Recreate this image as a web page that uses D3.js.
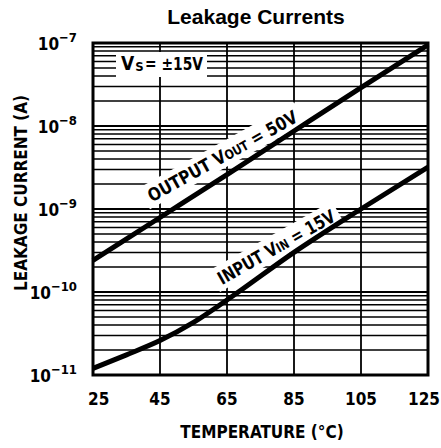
<!DOCTYPE html>
<html><head><meta charset="utf-8">
<script src="https://cdn.jsdelivr.net/npm/d3@7"></script>
<style>
html,body{margin:0;padding:0;background:#fff;}
svg{display:block;}
.cond{font-family:"Liberation Sans Narrow","DejaVu Sans Condensed","Arial Narrow",sans-serif;font-weight:bold;font-stretch:condensed;}
</style></head>
<body>
<svg id="c" width="441" height="448"></svg>
<script>
const xTicks = [25, 45, 65, 85, 105, 125];
const yExponents = [-7, -8, -9, -10, -11];
const outputTemps = [25, 45, 65, 85, 105, 125];
const outputLeak = [2.4e-10, 7.9e-10, 2.6e-9, 8.7e-9, 2.9e-8, 9.5e-8];
const inputTemps = [25, 35, 45, 55, 65, 85, 105, 125];
const inputLeak = [1.2e-11, 1.75e-11, 2.6e-11, 4.3e-11, 8.0e-11, 3.0e-10, 1.0e-9, 3.2e-9];

const svg = d3.select("#c");
const L = 93, R = 428, T = 43, B = 375;
const x = d3.scaleLinear().domain([25, 125]).range([L, R]);
const y = d3.scaleLog().domain([1e-11, 1e-7]).range([B, T]);

// title
svg.append("text").attr("x", 256).attr("y", 24).attr("text-anchor", "middle")
  .attr("font-family", "Liberation Sans, Arial, sans-serif").attr("font-weight", "bold")
  .attr("font-size", 21).text("Leakage Currents");

const g = svg.append("g");
const yt = y.ticks();
g.selectAll("line.h").data(yt).join("line")
  .attr("x1", L).attr("x2", R).attr("y1", d => y(d)).attr("y2", d => y(d))
  .attr("stroke", "#000")
  .attr("stroke-width", d => Math.abs(Math.log10(d) - Math.round(Math.log10(d))) < 1e-6 ? 2 : 1.5);
g.selectAll("line.v").data(xTicks).join("line")
  .attr("x1", d => x(d)).attr("x2", d => x(d)).attr("y1", T).attr("y2", B)
  .attr("stroke", "#000").attr("stroke-width", 1.8);

// Vs knockout
svg.append("rect").attr("x", 116).attr("y", 52).attr("width", 91).attr("height", 25).attr("fill", "#fff");

// line-label groups (anchored at text baseline start)
const outAng = -29, inAng = -29.5;
const outLen = 168, inLen = 132;
const outG = svg.append("g").attr("transform", `translate(${x(42.6)},${y(1.2e-9)}) rotate(${outAng})`);
outG.append("rect").attr("x", -5).attr("y", -19).attr("width", outLen + 10).attr("height", 24).attr("fill", "#fff");
const inG = svg.append("g").attr("transform", `translate(${x(63.5)},${y(1.21e-10)}) rotate(${inAng})`);
inG.append("rect").attr("x", -5).attr("y", -19).attr("width", inLen + 10).attr("height", 24).attr("fill", "#fff");

// border
svg.append("rect").attr("x", L).attr("y", T).attr("width", R - L).attr("height", B - T)
  .attr("fill", "none").attr("stroke", "#000").attr("stroke-width", 3);

// data lines
const line = d3.line().x(d => x(d[0])).y(d => y(d[1])).curve(d3.curveMonotoneX);
svg.append("path").attr("d", line(outputTemps.map((t, i) => [t, outputLeak[i]])))
  .attr("fill", "none").attr("stroke", "#000").attr("stroke-width", 5);
svg.append("path").attr("d", line(inputTemps.map((t, i) => [t, inputLeak[i]])))
  .attr("fill", "none").attr("stroke", "#000").attr("stroke-width", 5);

// line labels
const ot = outG.append("text").attr("class", "cond").attr("x", 0).attr("y", 0)
  .attr("font-size", 18).attr("textLength", outLen).attr("lengthAdjust", "spacingAndGlyphs");
ot.append("tspan").text("OUTPUT V");
ot.append("tspan").attr("font-size", 13).text("OUT");
ot.append("tspan").text(" = 50V");
const it = inG.append("text").attr("class", "cond").attr("x", 0).attr("y", 0)
  .attr("font-size", 18).attr("textLength", inLen).attr("lengthAdjust", "spacingAndGlyphs");
it.append("tspan").text("INPUT V");
it.append("tspan").attr("font-size", 13).text("IN");
it.append("tspan").text(" = 15V");

// Vs label (V, subscript S, rest)
const vsG = svg.append("g").attr("class", "cond");
const vV = vsG.append("text").attr("x", 121).attr("y", 70).attr("font-size", 19).text("V");
const vW = vV.node().getComputedTextLength();
vsG.append("text").attr("x", 121 + vW + 1).attr("y", 71).attr("font-size", 13).text("S");
vsG.append("text").attr("x", 145).attr("y", 70).attr("font-size", 18)
  .attr("textLength", 58).attr("lengthAdjust", "spacingAndGlyphs").text("= ±15V");

// y tick labels
const yl = svg.append("g").attr("class", "cond");
yExponents.forEach(e => {
  const t = yl.append("text").attr("x", 77).attr("y", y(Math.pow(10, e)) + 7)
    .attr("text-anchor", "end").attr("font-size", 17);
  t.append("tspan").text("10");
  t.append("tspan").attr("font-size", 13).attr("dy", -8).text("−" + Math.abs(e));
});

// x tick labels
svg.append("g").attr("class", "cond").selectAll("text").data(xTicks).join("text")
  .attr("y", 405).attr("text-anchor", "middle").attr("font-size", 17)
  .text(d => d)
  .each(function(d) {
    const w = this.getComputedTextLength();
    let cx = x(d);
    cx = Math.max(cx, 88 + w / 2);
    cx = Math.min(cx, 440 - w / 2);
    d3.select(this).attr("x", cx);
  });

// axis titles
svg.append("text").attr("class", "cond").attr("x", 262).attr("y", 438).attr("text-anchor", "middle")
  .attr("font-size", 17).text("TEMPERATURE (°C)");
svg.append("text").attr("class", "cond").attr("transform", "translate(27,193) rotate(-90)")
  .attr("text-anchor", "middle").attr("font-size", 17).text("LEAKAGE CURRENT (A)");
</script>
</body></html>
